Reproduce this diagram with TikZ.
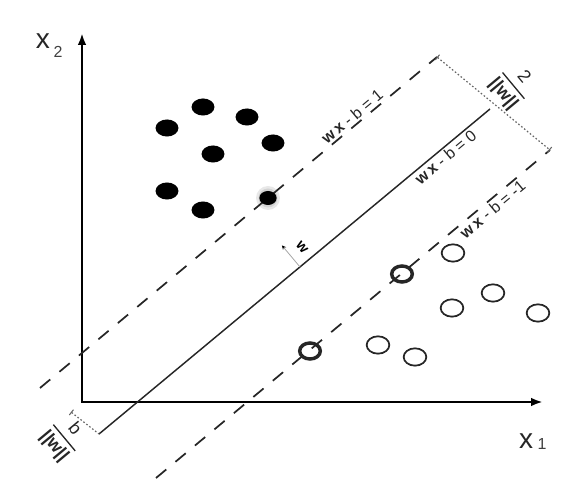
\documentclass[tikz,border=0pt]{standalone}
\usepackage{amsmath}
\usepackage{fontspec}
\setmainfont{Liberation Sans}
\usetikzlibrary{arrows.meta,calc,shapes.geometric}
\newcommand{\normfrac}[1]{$\genfrac{}{}{1pt}{0}{\mbox{#1}}{\mbox{\textbf{||w||}}}$}
\begin{document}
\begin{tikzpicture}[x=0.75pt,y=-0.75pt,
  axis/.style={line width=1.9pt, line join=miter, {Latex[length=9pt,width=6.5pt]}-{Latex[length=9pt,width=6.5pt]}},
  hyper/.style={line width=1.1pt, black!85},
  marginline/.style={line width=1.3pt, black!85, dash pattern=on 10pt off 9pt},
  dotline/.style={line width=0.9pt, dash pattern=on 1.2pt off 1.6pt, gray!80!black},
  posdot/.style={draw=black!85, ellipse, line width=1.3pt, minimum width=17pt, minimum height=13pt, inner sep=0pt},
  supdot/.style={posdot, line width=2.6pt, minimum width=15.5pt, minimum height=12pt},
  negdot/.style={fill=black, ellipse, minimum width=17.2pt, minimum height=12.8pt, inner sep=0pt},
  axlab/.style={font=\fontsize{21}{24}\selectfont, text=black!85, inner sep=0pt},
  sublab/.style={font=\fontsize{12}{14}\selectfont, text=black!75, inner sep=0pt},
  lab/.style={font=\fontsize{12}{14}\selectfont, text=black!85, rotate=39.8, inner sep=1.5pt},
  frac/.style={font=\fontsize{13.5}{16}\selectfont, text=black!85, rotate=-50.2, inner sep=0pt}
]
\useasboundingbox (0,0) rectangle (561,491);
% axes
\coordinate (O) at (82,402);
\coordinate (Xend) at (543,402);
\coordinate (Yend) at (82,33);
\draw[axis] (Yend) -- (O) -- (Xend);
\node[axlab] (x2) at (43,41) {x};
\node[sublab] (x2s) at (58,52) {2};
\node[axlab] (x1) at (526,441) {x};
\node[sublab] (x1s) at (542,444) {1};
% hyperplanes
\coordinate (S1) at (99,434); \coordinate (S2) at (490,109);
\coordinate (U1) at (40,388); \coordinate (U2) at (437,57);
\coordinate (L1) at (156,478); \coordinate (L2) at (550,150);
% support halo
\fill[gray!18] (268,198) circle (12);
\fill[gray!35] (268,198) circle (9.5);
\draw[hyper] (S1) -- (S2) node[pos=0.872, lab, anchor=north] (lmid) {\textbf{w}\,\textbf{x} - b = 0};
\draw[marginline] (U1) -- (U2) node[pos=0.80, lab, anchor=south] (lup) {\textbf{w}\,\textbf{x} - b = 1};
\draw[marginline] (L1) -- (L2) node[pos=0.84, lab, anchor=north] (llow) {\textbf{w}\,\textbf{x} - b = -1};
% margin width
\draw[dotline, {Bar[width=5pt,line width=0.8pt]}-{Bar[width=5pt,line width=0.8pt]}] (U2) -- (L2);
\node[frac] (fw) at (513,86) {\normfrac{2}};
% offset b/||w||
\coordinate (B0) at (71,412);
\draw[dotline, {Bar[width=5pt,line width=0.8pt]}-] (B0) -- (S1);
\node[frac] (fb) at (64,438) {\normfrac{b}};
% normal vector w
\coordinate (wb) at ($(S1)!0.514!(S2)$);
\coordinate (wt) at ($(wb)+(-18,-21.5)$);
\draw[gray!70, line width=0.6pt, -{Stealth[length=3pt,width=3pt,black]}] (wb) -- (wt);
\node[font=\fontsize{11}{13}\selectfont\bfseries, rotate=-50.2, inner sep=0pt] (wl) at (302,247) {w};
% negative class (filled)
\node[negdot] (n1) at (203,107) {};
\node[negdot] (n2) at (247,117) {};
\node[negdot] (n3) at (167,128) {};
\node[negdot] (n4) at (213,154) {};
\node[negdot] (n5) at (273,143) {};
\node[negdot] (n6) at (167,191) {};
\node[negdot] (n7) at (203,210) {};
\node[negdot, minimum width=13pt, minimum height=10.5pt] (ns) at (268,198) {};
% positive class (open)
\node[posdot] (p1) at (453,253) {};
\node[posdot] (p2) at (493,293) {};
\node[posdot] (p3) at (452,308) {};
\node[posdot] (p4) at (538,313) {};
\node[posdot] (p5) at (378,345) {};
\node[posdot] (p6) at (415,357) {};
\node[supdot] (ps1) at (402,274) {};
\node[supdot] (ps2) at (310,351) {};
\end{tikzpicture}
\end{document}
